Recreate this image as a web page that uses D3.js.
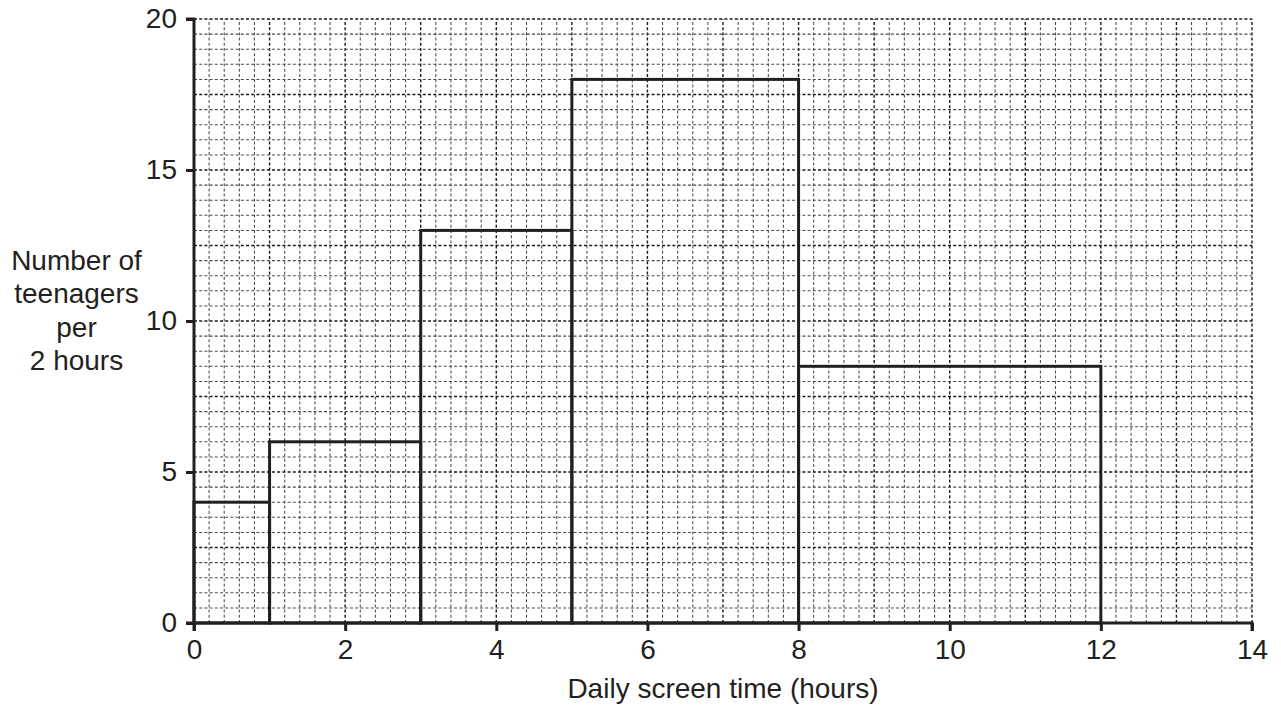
<!DOCTYPE html>
<html><head><meta charset="utf-8">
<script src="https://cdn.jsdelivr.net/npm/d3@7"></script>
<style>body{margin:0;background:#fff}svg{display:block}text{font-family:"Liberation Sans",Arial,sans-serif;fill:#231f20}</style>
</head><body>
<svg id="c" width="1281" height="708"></svg>
<script>
const binStarts = [0, 1, 3, 5, 8];
const binEnds = [1, 3, 5, 8, 12];
const densities = [4, 6, 13, 18, 8.5];
const xTicks = [0, 2, 4, 6, 8, 10, 12, 14];
const yTicks = [0, 5, 10, 15, 20];
const yLabelLines = ["Number of", "teenagers", "per", "2 hours"];
const xTitle = "Daily screen time (hours)";

const svg = d3.select("#c");
const x = d3.scaleLinear().domain([0, 14]).range([194, 1252]);
const y = d3.scaleLinear().domain([0, 20]).range([623, 19]);
const ink = "#231f20";
const FS = 28;

// grid
const g = svg.append("g");
const xs = d3.range(0, 70 + 1).map(i => i / 5);
const ys = d3.range(0, 40 + 1).map(i => i / 2);
xs.forEach((v, i) => {
  if (i === 0) return;
  const major = i % 5 === 0;
  g.append("line").attr("x1", x(v)).attr("x2", x(v)).attr("y1", y(0)).attr("y2", y(20))
    .attr("stroke", major ? "#1a1a1a" : "#4a4a4a").attr("stroke-width", major ? 1.4 : 1.05)
    .attr("stroke-dasharray", "3,2.2");
});
ys.forEach((v, i) => {
  if (i === 0) return;
  const major = i % 5 === 0;
  g.append("line").attr("x1", x(0)).attr("x2", x(14)).attr("y1", y(v)).attr("y2", y(v))
    .attr("stroke", major ? "#1a1a1a" : "#4a4a4a").attr("stroke-width", major ? 1.4 : 1.05)
    .attr("stroke-dasharray", "3,2.2");
});

// bars
const bars = binStarts.map((s, i) => ({s, e: binEnds[i], d: densities[i]}));
svg.append("g").selectAll("rect").data(bars).join("rect")
  .attr("x", d => x(d.s)).attr("y", d => y(d.d))
  .attr("width", d => x(d.e) - x(d.s)).attr("height", d => y(0) - y(d.d))
  .attr("fill", "none").attr("stroke", ink).attr("stroke-width", 3);

// axes
const xAxis = svg.append("g").attr("transform", `translate(0,${y(0)})`)
  .call(d3.axisBottom(x).tickValues(xTicks).tickSize(8).tickPadding(8).tickFormat(d3.format("d")));
const yAxis = svg.append("g").attr("transform", `translate(${x(0)},0)`)
  .call(d3.axisLeft(y).tickValues(yTicks).tickSize(8).tickPadding(9).tickFormat(d3.format("d")));
[xAxis, yAxis].forEach(a => {
  a.attr("font-size", FS).attr("font-family", '"Liberation Sans",Arial,sans-serif');
  a.select(".domain").attr("stroke", ink).attr("stroke-width", 3);
  a.selectAll(".tick line").attr("stroke", ink).attr("stroke-width", 3);
  a.selectAll(".tick text").attr("font-size", FS).attr("fill", ink);
});
xAxis.select(".domain").attr("d", `M${x(0)},8V0H${x(14)}V8`);
yAxis.select(".domain").attr("d", `M-8,${y(0)}H0V${y(20)}H-8`);

// titles
svg.append("text").attr("x", (x(0) + x(14)) / 2).attr("y", 698).attr("text-anchor", "middle")
  .attr("font-size", FS).text(xTitle);
svg.append("text").attr("text-anchor", "middle").attr("font-size", FS)
  .selectAll("tspan").data(yLabelLines).join("tspan")
  .attr("x", 76.5).attr("y", (d, i) => 270 + i * 33.4).text(d => d);
</script>
</body></html>
